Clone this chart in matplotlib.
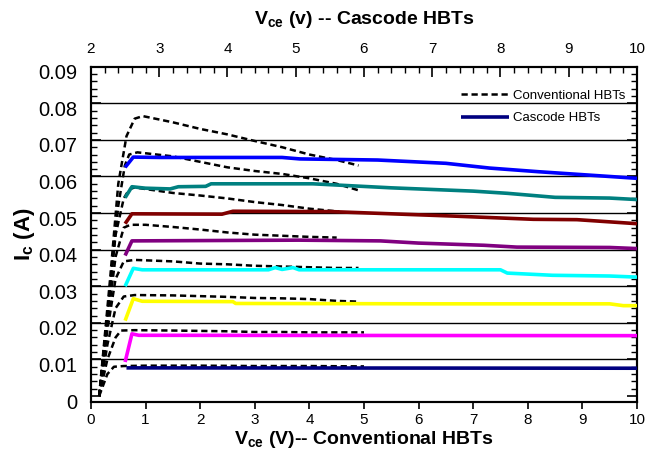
import numpy as np
import matplotlib.pyplot as plt
from matplotlib.ticker import MultipleLocator
from matplotlib.transforms import ScaledTranslation

plt.rcParams['font.family'] = ['Liberation Sans', 'DejaVu Sans']
plt.rcParams['mathtext.fontset'] = 'custom'
plt.rcParams['mathtext.rm'] = 'Liberation Sans'
plt.rcParams['mathtext.bf'] = 'Liberation Sans:bold'

# conventional HBTs (bottom axis, Vce 0-10 V)
conv_a_x = [0.15, 0.35, 0.5, 0.65, 0.8, 0.95, 1.5, 2, 2.5, 3, 3.5, 4, 4.5, 4.9]
conv_a_y = [0, 0.032, 0.058, 0.071, 0.0758, 0.0765, 0.0748, 0.073, 0.0715, 0.0697, 0.068, 0.066, 0.0645, 0.063]
conv_b_x = [0.15, 0.35, 0.5, 0.62, 0.7, 0.85, 1.5, 2, 2.5, 3, 3.5, 4, 4.5, 4.95]
conv_b_y = [0, 0.03, 0.052, 0.063, 0.066, 0.0666, 0.0655, 0.064, 0.0625, 0.0615, 0.0607, 0.0595, 0.058, 0.056]
conv_c_x = [0.15, 0.3, 0.45, 0.6, 0.7, 0.8, 1.5, 2, 2.5, 3, 3.5, 4, 4.55]
conv_c_y = [0, 0.022, 0.044, 0.054, 0.0565, 0.057, 0.0555, 0.0548, 0.054, 0.053, 0.0522, 0.0512, 0.0504]
conv_d_x = [0.15, 0.3, 0.45, 0.6, 0.72, 1.0, 1.5, 2, 2.5, 3, 3.5, 4, 4.5]
conv_d_y = [0, 0.02, 0.038, 0.046, 0.0468, 0.0468, 0.0462, 0.0455, 0.0447, 0.0441, 0.0438, 0.0435, 0.0433]
conv_e_x = [0.15, 0.3, 0.45, 0.6, 0.8, 1.5, 2, 2.5, 3, 3.5, 4, 4.5, 4.9]
conv_e_y = [0, 0.018, 0.032, 0.0368, 0.0372, 0.0368, 0.0362, 0.036, 0.0356, 0.0354, 0.0352, 0.035, 0.035]
conv_f_x = [0.15, 0.3, 0.45, 0.6, 0.8, 1.5, 2, 2.5, 3, 3.5, 4, 4.5, 4.9]
conv_f_y = [0, 0.014, 0.024, 0.0272, 0.0276, 0.0275, 0.0273, 0.0271, 0.0268, 0.0267, 0.0265, 0.026, 0.0258]
conv_g_x = [0.15, 0.3, 0.45, 0.55, 0.8, 1.5, 2, 2.5, 3, 3.5, 4, 4.5, 5.0]
conv_g_y = [0, 0.01, 0.016, 0.0179, 0.018, 0.0179, 0.0178, 0.0177, 0.0175, 0.0175, 0.0174, 0.0174, 0.0174]
conv_h_x = [0.15, 0.3, 0.42, 0.6, 1, 2, 3, 4, 5.0]
conv_h_y = [0, 0.006, 0.008, 0.0082, 0.0083, 0.0083, 0.0082, 0.0082, 0.0081]

# cascode HBTs (top axis, Vce 2-10 V)
blue_x = [2.5, 2.62, 3.0, 4.8, 5.06, 6.2, 7.2, 7.84, 8.56, 9.04, 9.6, 10]
blue_y = [0.0625, 0.0653, 0.0652, 0.0652, 0.0648, 0.0645, 0.0636, 0.0623, 0.0613, 0.0607, 0.06, 0.0595]
teal_x = [2.5, 2.6, 2.8, 3.16, 3.28, 3.68, 3.76, 5.25, 6.4, 7.6, 8.1, 8.8, 9.6, 10]
teal_y = [0.0542, 0.0572, 0.0568, 0.0566, 0.0572, 0.0573, 0.058, 0.058, 0.0569, 0.056, 0.0554, 0.0543, 0.0541, 0.0537]
red_x = [2.5, 2.6, 3.92, 4.08, 5.52, 6.4, 7.28, 8.48, 9.12, 10]
red_y = [0.0471, 0.0498, 0.0497, 0.0505, 0.0504, 0.0498, 0.0492, 0.0483, 0.0482, 0.0471]
purple_x = [2.5, 2.6, 5.04, 6.24, 6.8, 7.76, 8.24, 9.6, 10]
purple_y = [0.0384, 0.0424, 0.0426, 0.0424, 0.0418, 0.0412, 0.0407, 0.0406, 0.0403]
cyan_x = [2.5, 2.62, 2.75, 4.6, 4.7, 4.8, 4.96, 5.05, 8.0, 8.1, 8.76, 9.6, 10]
cyan_y = [0.030, 0.0349, 0.0345, 0.0345, 0.0351, 0.0346, 0.0351, 0.0345, 0.0345, 0.0336, 0.033, 0.0328, 0.0325]
yellow_x = [2.5, 2.62, 2.75, 4.08, 4.12, 7.0, 9.6, 9.8, 10]
yellow_y = [0.0206, 0.0266, 0.0259, 0.0258, 0.0253, 0.0252, 0.0252, 0.0247, 0.0247]
magenta_x = [2.5, 2.6, 2.7, 10]
magenta_y = [0.0093, 0.017, 0.0166, 0.0165]
navy_x = [2.52, 10]
navy_y = [0.0077, 0.0076]

conv_curves = [(conv_a_x, conv_a_y), (conv_b_x, conv_b_y), (conv_c_x, conv_c_y), (conv_d_x, conv_d_y),
               (conv_e_x, conv_e_y), (conv_f_x, conv_f_y), (conv_g_x, conv_g_y), (conv_h_x, conv_h_y)]
casc_curves = [(blue_x, blue_y, '#0000ff'), (teal_x, teal_y, '#008080'), (red_x, red_y, '#800000'),
               (purple_x, purple_y, '#800080'), (cyan_x, cyan_y, '#00ffff'), (yellow_x, yellow_y, '#ffff00'),
               (magenta_x, magenta_y, '#ff00ff'), (navy_x, navy_y, '#000080')]

y_ticks = [0, 0.01, 0.02, 0.03, 0.04, 0.05, 0.06, 0.07, 0.08, 0.09]
y_labels = ['0', '0.01', '0.02', '0.03', '0.04', '0.05', '0.06', '0.07', '0.08', '0.09']

fig = plt.figure(figsize=(6.48, 4.61), dpi=100)
ax = fig.add_axes([0.1404, 0.129, 0.8426, 0.7263])
ax2 = ax.twiny()

ax.set_xlim(0, 10)
ax.set_ylim(-0.0015, 0.09)
ax2.set_xlim(2, 10)

for yv in y_ticks[1:-1]:
    ax.axhline(yv, color='black', lw=1.0, zorder=1)

conv_lines = []
for xs, ys in conv_curves:
    ln, = ax.plot(xs, ys, color='black', lw=1.8, dashes=(2.5, 1.5), zorder=2)
    conv_lines.append(ln)

casc_lines = []
for xs, ys, c in casc_curves:
    ln, = ax2.plot(xs, ys, color=c, lw=2.6, solid_capstyle='butt', zorder=3)
    casc_lines.append(ln)

ax.set_yticks(y_ticks)
ax.set_yticklabels(y_labels)
ax.yaxis.set_minor_locator(MultipleLocator(0.002))
ax.set_xticks(range(0, 11))
ax.tick_params(axis='x', which='major', direction='out', length=5, width=1.2, labelsize=11, pad=3)
ax.tick_params(axis='y', which='major', direction='in', length=7, width=1.2, left=True, right=True,
               labelsize=14.5, pad=10)
ax.tick_params(axis='y', which='minor', direction='in', length=4, width=1.0, left=True, right=True)

ax2.set_xticks(range(2, 11))
ax2.xaxis.set_minor_locator(MultipleLocator(0.2))
ax2.tick_params(axis='x', which='major', direction='in', length=7, width=1.2, labelsize=11, pad=8)
ax2.tick_params(axis='x', which='minor', direction='in', length=4, width=1.0)

for sp in list(ax.spines.values()) + list(ax2.spines.values()):
    sp.set_linewidth(1.5)

shift = ScaledTranslation(0, -5 / 100, fig.dpi_scale_trans)
for lab in ax.get_yticklabels():
    lab.set_transform(lab.get_transform() + shift)

ax.set_xlabel(r'V$_{\mathbf{ce}}$ (V)-- Conventional HBTs', fontsize=14, fontweight='bold', labelpad=2)
ax2.set_xlabel(r'V$_{\mathbf{ce}}$ (v) -- Cascode HBTs', fontsize=14, fontweight='bold', labelpad=13)
ax.set_ylabel(r'I$_{\mathbf{c}}$ (A)', fontsize=16, fontweight='bold', labelpad=1)

ax2.legend([conv_lines[0], casc_lines[-1]], ['Conventional HBTs', 'Cascode HBTs'],
           loc='upper right', bbox_to_anchor=(0.995, 0.96), frameon=False, fontsize=9.5,
           handlelength=3.6, handletextpad=0.3, labelspacing=0.8, borderaxespad=0.3)

fig.savefig('out.png', dpi=100)
